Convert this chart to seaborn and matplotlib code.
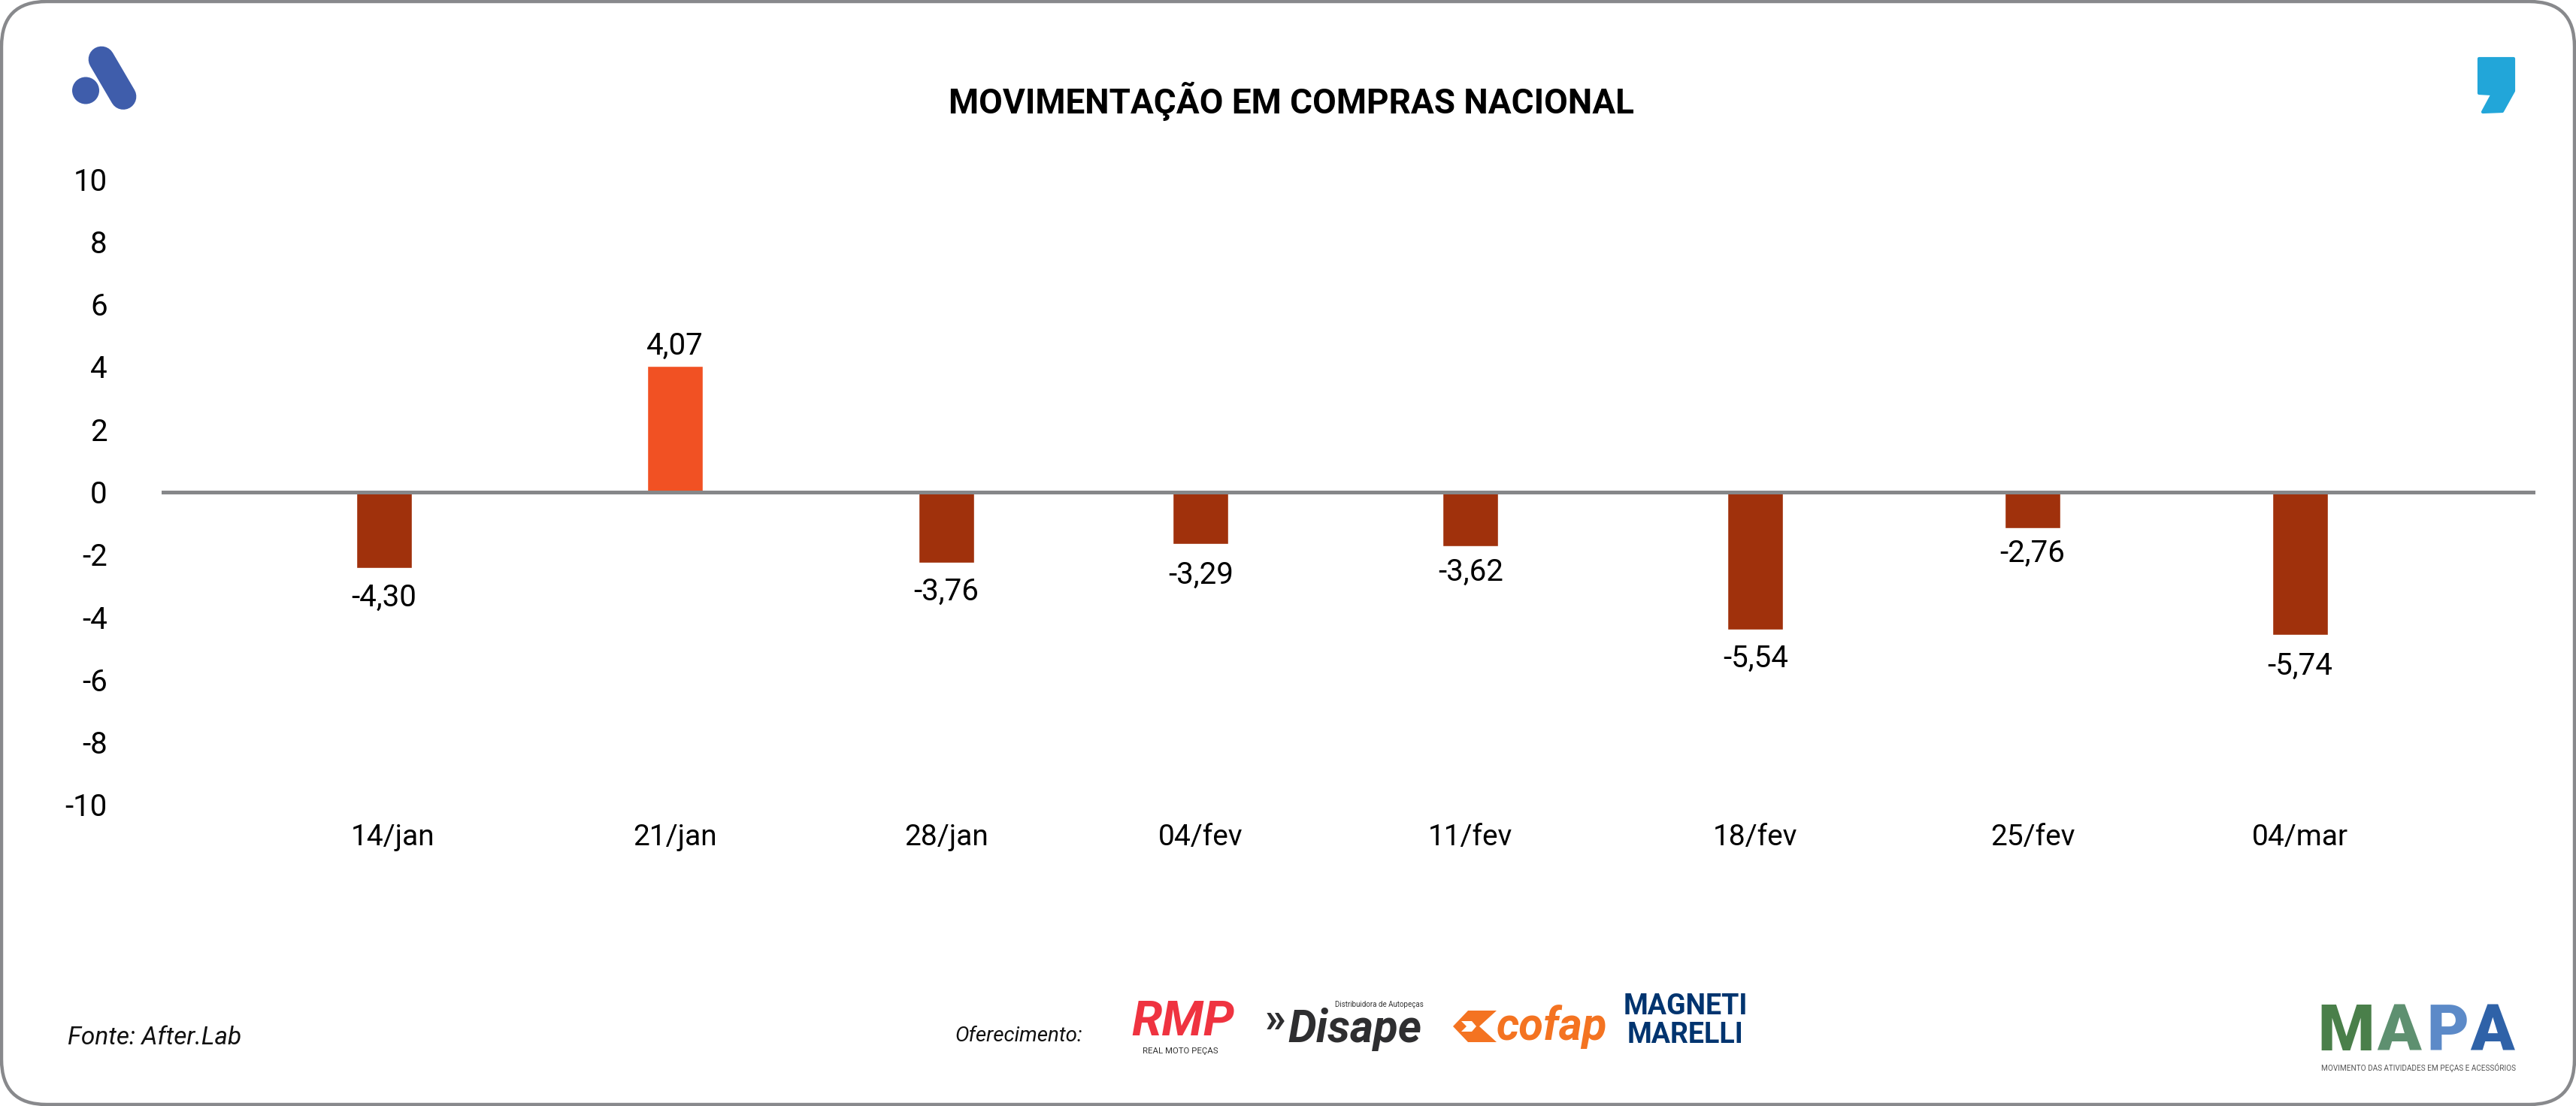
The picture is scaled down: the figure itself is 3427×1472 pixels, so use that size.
# -*- coding: utf-8 -*-
import pandas as pd
import seaborn as sns
import matplotlib.pyplot as plt
from matplotlib.patches import FancyBboxPatch, Polygon, Circle
from matplotlib.lines import Line2D
from matplotlib.transforms import ScaledTranslation

# Dados
semanas = ['14/jan', '21/jan', '28/jan', '04/fev', '11/fev', '18/fev', '25/fev', '04/mar']
# o original nao tem as semanas igualmente espacadas
posicao_semana = [0, 1.063, 2.054, 2.983, 3.969, 5.01, 6.023, 7.0]
# as barras do original nao batem com os rotulos, entao ficam separados
valores = [-2.43, 4.02, -2.26, -1.66, -1.74, -4.41, -1.17, -4.58]
rotulos = ['-4,30', '4,07', '-3,76', '-3,29', '-3,62', '-5,54', '-2,76', '-5,74']
ticks_y = [10, 8, 6, 4, 2, 0, -2, -4, -6, -8, -10]

df = pd.DataFrame({'pos': posicao_semana, 'valor': valores})
df['sinal'] = ['pos' if v > 0 else 'neg' for v in valores]

W, H = 3427, 1472
FONTE = ['Roboto', 'DejaVu Sans']

sns.set_theme(style='white')
plt.rcParams['font.family'] = FONTE

fig = plt.figure(figsize=(W / 100, H / 100), dpi=100, facecolor='white')

# Camada em pixels para moldura e logos
bg = fig.add_axes([0, 0, 1, 1], zorder=0)
bg.set_xlim(0, W)
bg.set_ylim(H, 0)
bg.axis('off')
bg.add_patch(FancyBboxPatch((60, 60), W - 120, H - 120, boxstyle='round,pad=58,rounding_size=60',
                            fc='white', ec='#88898C', lw=3.2))

# Grafico
ax = fig.add_axes([215 / W, 1 - 1071 / H, (3373 - 215) / W, (1071 - 238) / H], zorder=1)
ax.patch.set_alpha(0)
sns.barplot(data=df, x='pos', y='valor', hue='sinal', palette={'pos': '#F15123', 'neg': '#A0310C'},
            native_scale=True, dodge=False, width=0.218, saturation=1, legend=False, ax=ax)
ax.set_xlim(-0.813, 7.86)
ax.set_ylim(-10, 10)
ax.set_yticks(ticks_y)
ax.set_yticklabels([str(t) for t in ticks_y], fontsize=29, color='black')
ax.set_xticks(posicao_semana)
ax.set_xticklabels(semanas, fontsize=28, color='black')
ax.tick_params(axis='y', length=0, pad=52)
ax.tick_params(axis='x', length=0, pad=18)
ax.set_xlabel('')
ax.set_ylabel('')
sns.despine(ax=ax, left=True, bottom=True)
ax.axhline(0, color='#868789', lw=3.6, zorder=5)

# o primeiro rotulo do eixo esta um pouco deslocado no original
lab = ax.get_xticklabels()[0]
lab.set_transform(lab.get_transform() + ScaledTranslation(0.12, 0, fig.dpi_scale_trans))

# Rotulos das barras, a distancia varia um pouco no original
dist = [40, 27, 39, 42, 34, 38, 33, 41]
for x, v, r, d in zip(posicao_semana, valores, rotulos, dist):
    ax.annotate(r, (x, v), xytext=(0, d * 0.72 if v > 0 else -d * 0.72), textcoords='offset points',
                ha='center', va='center', fontsize=29, color='black')

# Titulo
bg.text(1718, 135, 'MOVIMENTAÇÃO EM COMPRAS NACIONAL', ha='center', va='center',
        fontsize=33, fontweight='bold', color='black')

# Logo A
bg.add_patch(Circle((114, 120.5), 18, fc='#3F5DAB', ec='none'))
bg.add_line(Line2D([135, 164], [79, 128.5], color='#3F5DAB', lw=25, solid_capstyle='round'))

# Logo aspas
bg.add_patch(Polygon([(3298, 78), (3344, 78), (3344, 121), (3329, 148), (3303, 149), (3316, 125), (3298, 124)],
                     fc='#22A6D9', ec='#22A6D9', lw=3, joinstyle='round'))

# Rodape
bg.text(90, 1381, 'Fonte: After.Lab', ha='left', va='center', fontsize=24, style='italic', color='#111111')
bg.text(1270, 1379, 'Oferecimento:', ha='left', va='center', fontsize=20, style='italic', color='#111111')

# Patrocinadores
bg.text(1574, 1378, 'RMP', ha='center', va='baseline', fontsize=47, fontweight='bold', style='italic',
        color='#EF3340')
bg.text(1570, 1399, 'REAL MOTO PEÇAS', ha='center', va='center', fontsize=8.2, color='#333333')
bg.text(1697, 1358, '»', ha='center', va='center', fontsize=40, fontweight='bold', color='#2E2E30')
bg.text(1802, 1387, 'Disape', ha='center', va='baseline', fontsize=43, fontweight='bold', style='italic',
        color='#2E2E30')
bg.text(1835, 1337, 'Distribuidora de Autopeças', ha='center', va='center', fontsize=7, color='#333333')
bg.add_patch(Polygon([(1953, 1345), (1991, 1345), (1968, 1366), (1991, 1387), (1953, 1387), (1933, 1366)],
                     fc='#F47321', ec='none'))
bg.add_patch(Polygon([(1944, 1359), (1958, 1359), (1964, 1366), (1958, 1373), (1944, 1373), (1951, 1366)],
                     fc='white', ec='none'))
bg.text(2064, 1384, 'cofap', ha='center', va='baseline', fontsize=43, fontweight='bold', style='italic',
        color='#F47321')
bg.text(2242, 1339, 'MAGNETI', ha='center', va='center', fontsize=27, fontweight='bold', color='#00346F')
bg.text(2242, 1378, 'MARELLI', ha='center', va='center', fontsize=27, fontweight='bold', color='#00346F')

# Logo MAPA
for x, letra, cor in zip([3121, 3191, 3256, 3315], 'MAPA', ['#4A7F4A', '#5E9070', '#5C8AC8', '#2F62A8']):
    bg.text(x, 1398, letra, ha='center', va='baseline', fontsize=62, fontweight='black', color=cor)
bg.text(3218, 1421, 'MOVIMENTO DAS ATIVIDADES EM PEÇAS E ACESSÓRIOS', ha='center', va='center',
        fontsize=7.2, color='#555555')

fig.savefig('out.png', dpi=100, facecolor='white')
